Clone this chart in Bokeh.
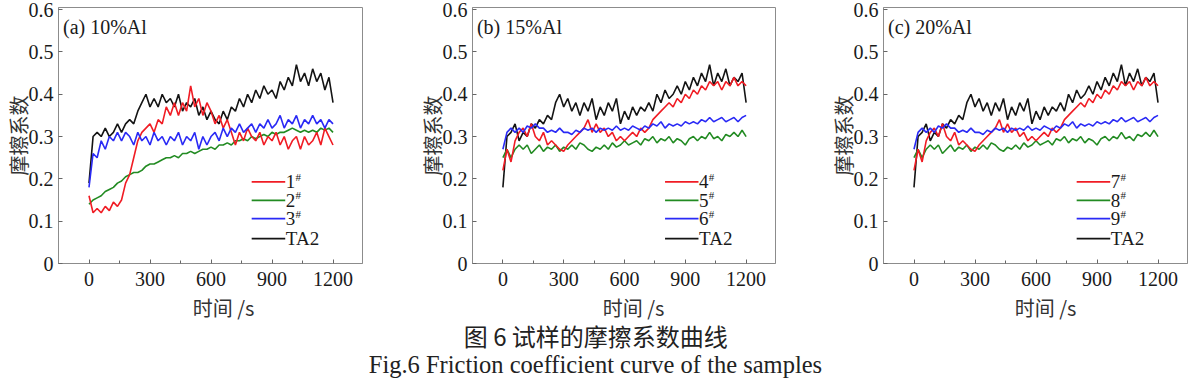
import numpy as np
from bokeh.plotting import figure
from bokeh.layouts import row, column
from bokeh.models import Range1d, FixedTicker, NumeralTickFormatter, Label, ColumnDataSource
from bokeh.embed import file_html
from bokeh.resources import INLINE

# ---------------- data (friction coefficient, sampled every 20 s from 0 to 1200 s) ----------------
a_ta2 = [0.19, 0.30, 0.31, 0.30, 0.32, 0.30, 0.31, 0.33, 0.31, 0.33,
         0.34, 0.33, 0.36, 0.38, 0.40, 0.37, 0.39, 0.37, 0.40, 0.38,
         0.39, 0.37, 0.40, 0.36, 0.38, 0.37, 0.39, 0.35, 0.37, 0.34,
         0.36, 0.34, 0.33, 0.36, 0.34, 0.37, 0.36, 0.39, 0.37, 0.40,
         0.38, 0.41, 0.39, 0.42, 0.40, 0.41, 0.39, 0.43, 0.41, 0.44,
         0.42, 0.47, 0.43, 0.45, 0.42, 0.46, 0.43, 0.45, 0.41, 0.44,
         0.38]
a_s1 = [0.16, 0.12, 0.13, 0.12, 0.135, 0.125, 0.145, 0.135, 0.15, 0.19,
        0.21, 0.25, 0.29, 0.31, 0.32, 0.33, 0.31, 0.34, 0.33, 0.37,
        0.35, 0.38, 0.35, 0.38, 0.36, 0.42, 0.37, 0.39, 0.35, 0.38,
        0.36, 0.33, 0.35, 0.32, 0.34, 0.31, 0.28, 0.31, 0.29, 0.32,
        0.30, 0.29, 0.31, 0.28, 0.30, 0.29, 0.31, 0.28, 0.30, 0.27,
        0.29, 0.30, 0.27, 0.30, 0.28, 0.29, 0.31, 0.28, 0.32, 0.30,
        0.28]
a_s2 = [0.14, 0.15, 0.155, 0.16, 0.17, 0.175, 0.18, 0.19, 0.195, 0.205,
        0.21, 0.215, 0.215, 0.22, 0.23, 0.235, 0.235, 0.24, 0.245, 0.25,
        0.25, 0.255, 0.25, 0.26, 0.26, 0.265, 0.26, 0.265, 0.27, 0.27,
        0.275, 0.27, 0.28, 0.28, 0.285, 0.28, 0.29, 0.29, 0.295, 0.29,
        0.30, 0.295, 0.30, 0.305, 0.30, 0.31, 0.305, 0.31, 0.31, 0.315,
        0.32, 0.315, 0.31, 0.315, 0.31, 0.315, 0.31, 0.32, 0.315, 0.32,
        0.31]
a_s3 = [0.18, 0.26, 0.25, 0.29, 0.27, 0.30, 0.29, 0.31, 0.29, 0.31,
        0.30, 0.28, 0.31, 0.29, 0.30, 0.28, 0.31, 0.29, 0.30, 0.28,
        0.30, 0.29, 0.31, 0.28, 0.30, 0.29, 0.31, 0.27, 0.30, 0.28,
        0.30, 0.31, 0.29, 0.32, 0.30, 0.32, 0.31, 0.33, 0.31, 0.32,
        0.33, 0.31, 0.33, 0.32, 0.34, 0.32, 0.33, 0.35, 0.32, 0.34,
        0.33, 0.35, 0.32, 0.34, 0.33, 0.35, 0.33, 0.34, 0.32, 0.34,
        0.33]

b_ta2 = [0.18, 0.30, 0.31, 0.33, 0.29, 0.31, 0.30, 0.33, 0.32, 0.34,
         0.33, 0.35, 0.34, 0.38, 0.40, 0.37, 0.39, 0.36, 0.38, 0.35,
         0.38, 0.36, 0.39, 0.34, 0.37, 0.35, 0.38, 0.36, 0.39, 0.33,
         0.36, 0.34, 0.37, 0.35, 0.37, 0.36, 0.38, 0.36, 0.40, 0.38,
         0.41, 0.39, 0.40, 0.42, 0.40, 0.43, 0.41, 0.44, 0.42, 0.45,
         0.43, 0.47, 0.42, 0.45, 0.43, 0.46, 0.42, 0.44, 0.43, 0.45,
         0.38]
b_s4 = [0.22, 0.27, 0.24, 0.29, 0.31, 0.32, 0.30, 0.33, 0.30, 0.29,
        0.31, 0.28, 0.29, 0.28, 0.27, 0.265, 0.28, 0.29, 0.30, 0.31,
        0.32, 0.34, 0.31, 0.33, 0.31, 0.32, 0.30, 0.31, 0.29, 0.30,
        0.29, 0.30, 0.31, 0.30, 0.32, 0.31, 0.32, 0.34, 0.35, 0.36,
        0.37, 0.38, 0.37, 0.39, 0.38, 0.40, 0.39, 0.41, 0.40, 0.42,
        0.41, 0.43, 0.42, 0.43, 0.41, 0.43, 0.42, 0.44, 0.42, 0.43,
        0.42]
b_s5 = [0.25, 0.27, 0.25, 0.27, 0.28, 0.27, 0.28, 0.26, 0.27, 0.28,
        0.265, 0.275, 0.27, 0.28, 0.265, 0.275, 0.27, 0.28, 0.27, 0.285,
        0.28, 0.27, 0.265, 0.275, 0.27, 0.28, 0.27, 0.285, 0.275, 0.28,
        0.29, 0.28, 0.285, 0.29, 0.28, 0.295, 0.29, 0.30, 0.285, 0.295,
        0.29, 0.30, 0.285, 0.295, 0.29, 0.28, 0.295, 0.30, 0.29, 0.30,
        0.295, 0.31, 0.295, 0.30, 0.29, 0.305, 0.30, 0.31, 0.30, 0.315,
        0.30]
b_s6 = [0.27, 0.31, 0.32, 0.31, 0.32, 0.31, 0.325, 0.32, 0.33, 0.32,
        0.32, 0.31, 0.315, 0.31, 0.32, 0.31, 0.31, 0.305, 0.315, 0.31,
        0.32, 0.315, 0.32, 0.31, 0.32, 0.315, 0.32, 0.315, 0.325, 0.315,
        0.32, 0.315, 0.325, 0.32, 0.315, 0.325, 0.32, 0.33, 0.325, 0.335,
        0.32, 0.33, 0.325, 0.33, 0.325, 0.335, 0.33, 0.335, 0.33, 0.34,
        0.335, 0.345, 0.335, 0.34, 0.345, 0.335, 0.34, 0.345, 0.335, 0.345,
        0.35]

# panel (c) curves are the same as panel (b) in the figure
c_ta2 = list(b_ta2)
c_s7 = list(b_s4)
c_s8 = list(b_s5)
c_s9 = list(b_s6)

x_ticks = [0, 300, 600, 900, 1200]
y_ticks = [0, 0.1, 0.2, 0.3, 0.4, 0.5, 0.6]
legend_a = ["1#", "2#", "3#", "TA2"]
legend_b = ["4#", "5#", "6#", "TA2"]
legend_c = ["7#", "8#", "9#", "TA2"]
titles = ["(a) 10%Al", "(b) 15%Al", "(c) 20%Al"]
x_title = "时间 /s"
y_title = "摩擦系数"

RED, GREEN, BLUE, BLACK = "#f01c24", "#228b22", "#2a2af5", "#141414"
SERIF = "Liberation Serif"
CJK = "Noto Sans CJK SC"

PANEL_H = 291


def panel(title, s_red, s_green, s_blue, s_black, labels, width, bl, br):
    p = figure(width=width, height=PANEL_H, x_range=Range1d(-150, 1345), y_range=Range1d(0, 0.605),
               output_backend="svg", toolbar_location=None,
               min_border_left=bl, min_border_right=br, min_border_top=7,
               min_border_bottom=PANEL_H - 263)
    p.grid.visible = False
    p.outline_line_color = "#8c8c8c"
    p.background_fill_color = "white"
    p.border_fill_color = "white"

    for ax in (p.xaxis[0], p.yaxis[0]):
        ax.axis_line_color = "#8c8c8c"
        ax.major_tick_line_color = "#666666"
        ax.minor_tick_line_color = "#666666"
        ax.major_tick_in = 4
        ax.major_tick_out = 0
        ax.minor_tick_in = 3
        ax.minor_tick_out = 0
        ax.major_label_text_font = SERIF
        ax.major_label_text_font_size = "20px"
        ax.major_label_text_color = "#1a1a1a"

    p.xaxis.ticker = FixedTicker(ticks=x_ticks, minor_ticks=[150, 450, 750, 1050])
    p.yaxis.ticker = FixedTicker(ticks=y_ticks, minor_ticks=[])
    p.yaxis.formatter = NumeralTickFormatter(format="0.[0]")
    p.xaxis.major_label_standoff = 8
    p.yaxis.major_label_standoff = 5

    p.yaxis.axis_label = y_title
    p.yaxis.axis_label_text_font = CJK
    p.yaxis.axis_label_text_font_size = "20px"
    p.yaxis.axis_label_text_font_style = "normal"
    p.yaxis.axis_label_text_color = "#333333"
    p.yaxis.axis_label_standoff = -7

    series = [(s_black, BLACK), (s_green, GREEN), (s_red, RED), (s_blue, BLUE)]
    for vals, col in series:
        t = np.linspace(0, 1200, len(vals))
        p.line(t, vals, line_color=col, line_width=1.6)

    # legend (lower right)
    rows_y = [0.193, 0.149, 0.106, 0.059]
    cols = [RED, GREEN, BLUE, BLACK]
    for lab, yy, col in zip(labels, rows_y, cols):
        src = ColumnDataSource(dict(x=[800, 965], y=[yy, yy]))
        p.line("x", "y", source=src, line_color=col, line_width=1.8)
        main = lab[:-1] if lab.endswith("#") else lab
        p.add_layout(Label(x=968, y=yy, text=main, text_font=SERIF, text_font_size="19px",
                           text_baseline="middle", text_color="#1a1a1a"))
        if lab.endswith("#"):
            p.add_layout(Label(x=1016, y=yy + 0.012, text="#", text_font=SERIF,
                               text_font_size="11px", text_baseline="middle", text_color="#1a1a1a"))

    p.add_layout(Label(x=-128, y=0.558, text=title, text_font=SERIF, text_font_size="20px",
                       text_baseline="middle", text_color="#1a1a1a"))
    return p


fa = panel(titles[0], a_s1, a_s2, a_s3, a_ta2, legend_a, 414, 58, 52)
fb = panel(titles[1], b_s4, b_s5, b_s6, b_ta2, legend_b, 411, 58, 50)
fc = panel(titles[2], c_s7, c_s8, c_s9, c_ta2, legend_c, 373, 58, 11)

# bottom strip: x-axis titles of the three panels and the figure caption (pixel coordinates)
CAP_H = 382 - PANEL_H
cap = figure(width=1198, height=CAP_H, x_range=Range1d(0, 1198), y_range=Range1d(0, CAP_H),
             output_backend="svg", toolbar_location=None, x_axis_type=None, y_axis_type=None,
             min_border=0)
cap.grid.visible = False
cap.outline_line_color = None
for xc in (223, 633, 1045):
    cap.add_layout(Label(x=xc, y=CAP_H - (306.5 - PANEL_H), text=x_title, text_font=CJK,
                         text_font_size="20px", text_align="center", text_baseline="middle",
                         text_color="#333333"))
cap.add_layout(Label(x=598, y=47, text="图 6  试样的摩擦系数曲线", text_font=CJK,
                     text_font_size="24px", text_align="center", text_baseline="middle",
                     text_color="#222222"))
cap.add_layout(Label(x=598, y=18, text="Fig.6  Friction coefficient curve of the samples",
                     text_font=SERIF, text_font_size="24.5px", text_align="center",
                     text_baseline="middle", text_color="#222222"))

layout = column(row(fa, fb, fc), cap)

open("out.html", "w").write(file_html(layout, INLINE))
